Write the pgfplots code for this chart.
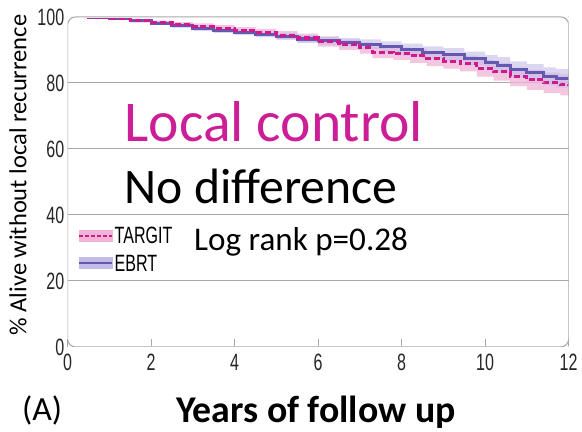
\documentclass[border=0pt]{standalone}
\usepackage{pgfplots}
\pgfplotsset{compat=1.18}
\usepgfplotslibrary{fillbetween}
\usepackage{fontspec}
\setmainfont{Carlito}
\newfontfamily\condfont{Liberation Sans}[FakeStretch=0.68]
\definecolor{targit}{HTML}{D01A8C}
\definecolor{ebrt}{HTML}{6458B0}
\definecolor{pinkband}{HTML}{F2B3D6}
\definecolor{lavband}{HTML}{C3BCE8}
\definecolor{boxgray}{HTML}{A8A8A8}
\definecolor{magtext}{HTML}{CC1E96}

\pgfplotstableread{
t s lo hi
0 100 100 100
0.5 99.8 99.6 100
1.0 99.5 99.1 99.9
1.5 98.9 98.4 99.4
2.0 98.3 97.7 98.9
2.5 97.7 97.0 98.4
3.0 97.2 96.4 98.0
3.5 96.6 95.7 97.5
4.0 95.9 94.9 96.9
4.5 95.3 94.2 96.4
5.0 94.5 93.3 95.7
5.5 93.6 92.3 94.9
6.0 92.5 91.0 94.0
6.5 91.6 90.0 93.2
7.0 90.6 88.9 92.3
7.3 89.3 87.5 91.1
7.8 88.9 87.0 90.8
8.2 88.2 86.1 90.3
8.6 87.3 85.1 89.5
9.0 86.6 84.3 88.9
9.4 85.9 83.5 88.3
9.8 84.4 81.9 86.9
10.2 83.4 80.7 86.1
10.6 81.8 79.0 84.6
11.0 80.9 77.9 83.9
11.4 80.0 76.9 83.1
11.8 79.4 76.2 82.6
12 79.2 75.9 82.5
}\targittab

\pgfplotstableread{
t s lo hi
0 100 100 100
0.5 99.8 99.6 100
1.0 99.4 99.0 99.8
1.5 98.8 98.3 99.3
2.0 98.1 97.5 98.7
2.5 97.3 96.6 98.0
3.0 96.6 95.8 97.4
3.5 96.0 95.1 96.9
4.0 95.4 94.5 96.3
4.5 94.8 93.8 95.8
5.0 94.1 93.0 95.2
5.5 93.3 92.1 94.5
6.0 92.8 91.5 94.1
6.5 92.2 90.8 93.6
7.0 91.7 90.2 93.2
7.5 91.0 89.4 92.6
8.0 90.1 88.3 91.9
8.5 89.2 87.3 91.1
9.0 88.5 86.5 90.5
9.5 87.4 85.3 89.5
10.0 86.2 83.9 88.5
10.3 85.4 83.0 87.8
10.6 84.0 81.5 86.5
11.0 83.1 80.5 85.7
11.4 82.0 79.3 84.7
11.7 81.4 78.6 84.2
12 80.8 78.0 83.6
}\ebrttab

\begin{document}
\begin{tikzpicture}
\begin{axis}[
  at={(51pt,63.75pt)}, anchor=south west,
  scale only axis, width=378pt, height=249pt,
  xmin=0, xmax=12, ymin=0, ymax=100,
  xtick={0,2,...,12},
  ytick={0,20,...,100},
  ymajorgrids,
  grid style={boxgray, line width=0.8pt},
  axis line style={draw=none},
  xtick pos=lower, ytick pos=left,
  xtick style={boxgray, line width=0.8pt},
  ytick style={draw=none},
  tick align=inside,
  major tick length=6pt,
  /pgf/number format/assume math mode=true,
  ticklabel style={font=\condfont\fontsize{17.8}{18}\selectfont, text=black!85},
  xticklabel style={yshift=-2pt},
  yticklabel style={xshift=1pt},
  legend style={at={(0.012,0.375)}, anchor=north west, draw=none, fill=none,
    font=\condfont\fontsize{17.8}{18}\selectfont, row sep=6pt,
    nodes={inner sep=1pt, text height=12.5pt, text depth=0pt}},
  legend cell align=left,
]
\addlegendimage{legend image code/.code={
  \fill[pinkband] (0pt,-4pt) rectangle (25pt,4pt);
  \draw[targit, line width=1.8pt, dash pattern=on 3pt off 1.5pt] (0pt,0pt) -- (25pt,0pt);}}
\addlegendentry{TARGIT}
\addlegendimage{legend image code/.code={
  \fill[lavband] (0pt,-4pt) rectangle (25pt,4pt);
  \draw[ebrt, line width=1.8pt] (0pt,0pt) -- (25pt,0pt);}}
\addlegendentry{EBRT}
\addplot[const plot, draw=none, name path=tlo, forget plot] table[x=t,y=lo] {\targittab};
\addplot[const plot, draw=none, name path=thi, forget plot] table[x=t,y=hi] {\targittab};
\addplot[pinkband, fill opacity=0.75, draw=none, forget plot] fill between[of=thi and tlo];
\addplot[const plot, draw=none, name path=elo, forget plot] table[x=t,y=lo] {\ebrttab};
\addplot[const plot, draw=none, name path=ehi, forget plot] table[x=t,y=hi] {\ebrttab};
\addplot[lavband, fill opacity=0.6, draw=none, forget plot] fill between[of=ehi and elo];
\addplot[const plot, ebrt, line width=2.3pt, forget plot] table[x=t,y=s] {\ebrttab};
\addplot[const plot, targit, line width=2.3pt, dash pattern=on 4.5pt off 2.2pt, forget plot] table[x=t,y=s] {\targittab};
\draw[white, line width=1.2pt] (rel axis cs:0,0) -- (rel axis cs:1,0);
\draw[white, line width=1.2pt] (rel axis cs:0,1) -- (rel axis cs:1,1);
\draw[boxgray, line width=0.8pt, rounded corners=6pt] (rel axis cs:0,0) rectangle (rel axis cs:1,1);
\end{axis}
\node[anchor=base west, inner sep=0pt, text=magtext, font=\fontsize{43.5}{44}\selectfont] at (93.75pt,219pt) {Local control};
\node[anchor=base west, inner sep=0pt, font=\fontsize{37.5}{40}\selectfont] at (93.75pt,171.75pt) {No difference};
\node[anchor=base west, inner sep=0pt, font=\fontsize{25}{26}\selectfont] at (146.25pt,136.5pt) {Log rank p=0.28};
\node[anchor=base west, inner sep=0pt, font=\fontsize{25.5}{26}\selectfont] at (16.5pt,8.25pt) {(A)};
\node[anchor=base west, inner sep=0pt, font=\bfseries\fontsize{28.5}{29}\selectfont] at (132.75pt,6.75pt) {Years of follow up};
\node[rotate=90, inner sep=0pt, font=\fontsize{18.5}{19}\selectfont] at (13.5pt,193.5pt) {\% Alive without local recurrence};
\path[use as bounding box] (0,0) rectangle (436.5pt,325.5pt);
\end{tikzpicture}
\end{document}
